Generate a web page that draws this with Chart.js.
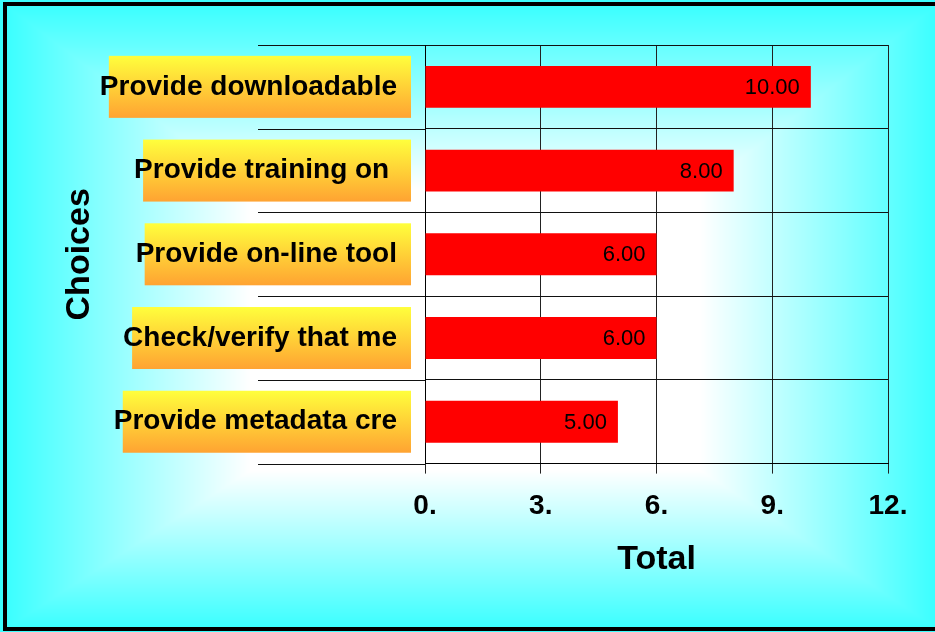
<!DOCTYPE html>
<html>
<head>
<meta charset="utf-8">
<title>Choices by Total</title>
<script src="https://cdn.jsdelivr.net/npm/chart.js@4"></script>
<style>
  html, body { margin: 0; padding: 0; background: #fff; }
  #wrap { width: 935px; height: 632px; position: relative; }
</style>
</head>
<body>
<div id="wrap"><canvas id="choicesChart" width="935" height="632"></canvas></div>
<script>
"use strict";

// chart data
const categories = ['Provide downloadable', 'Provide training on ', 'Provide on-line tool', 'Check/verify that me', 'Provide metadata cre'];
const totals = [10, 8, 6, 6, 5];
const xTickValues = [0, 3, 6, 9, 12];
const xTitle = 'Total';
const yTitle = 'Choices';

const FONT = "Arial, 'Liberation Sans', sans-serif";

// rectangular "from centre" fill: white core fading out to cyan at the frame
function makeBackground(w, h) {
    const c = document.createElement('canvas');
    c.width = w; c.height = h;
    const g = c.getContext('2d');
    const img = g.createImageData(w, h);
    const oL = 7, oR = w, oT = 6, oB = 627;
    const cL = 250, cR = 700, cT = 190, cB = 470;
    const edge = [60, 255, 255];
    for (let y = 0; y < h; y++) {
        for (let x = 0; x < w; x++) {
            let t = 0;
            if (x < cL) t = Math.max(t, (cL - x) / (cL - oL));
            if (x > cR) t = Math.max(t, (x - cR) / (oR - cR));
            if (y < cT) t = Math.max(t, (cT - y) / (cT - oT));
            if (y > cB) t = Math.max(t, (y - cB) / (oB - cB));
            t = Math.min(1, t);
            const i = (y * w + x) * 4;
            img.data[i] = 255 + (edge[0] - 255) * t;
            img.data[i + 1] = 255;
            img.data[i + 2] = 255;
            img.data[i + 3] = 255;
        }
    }
    g.putImageData(img, 0, 0);
    return c;
}

const bgCanvas = makeBackground(935, 632);

const backdrop = {
    id: 'backdrop',
    beforeDraw(chart) {
        const ctx = chart.ctx;
        ctx.save();
        ctx.fillStyle = '#fff';
        ctx.fillRect(0, 0, chart.width, chart.height);
        ctx.drawImage(bgCanvas, 0, 0);
        // frame
        ctx.fillStyle = '#000';
        ctx.fillRect(3, 2, chart.width, 4);
        ctx.fillRect(3, 2, 4, 629);
        ctx.fillRect(3, 627, chart.width, 4);

        // label boxes behind the category names
        const yScale = chart.scales.y;
        const area = chart.chartArea;
        ctx.font = 'bold 28px ' + FONT;
        const textRight = yScale.right - yScale.options.ticks.padding;
        categories.forEach((label, i) => {
            const cy = yScale.getPixelForTick(i);
            const w = ctx.measureText(label).width;
            const left = textRight - w + 9;
            const right = area.left - 14;
            const grad = ctx.createLinearGradient(0, cy - 31, 0, cy + 31);
            grad.addColorStop(0, '#ffff3c');
            grad.addColorStop(1, '#ffa332');
            ctx.fillStyle = grad;
            ctx.fillRect(left, cy - 31, right - left, 62);
        });

        // grid lines run out into the label column
        ctx.strokeStyle = '#111';
        ctx.lineWidth = 1;
        const step = (area.bottom - area.top) / categories.length;
        for (let i = 0; i <= categories.length; i++) {
            const y = Math.round(area.top + step * i) + 0.5;
            ctx.beginPath();
            ctx.moveTo(258, y);
            ctx.lineTo(area.left, y);
            ctx.stroke();
        }
        ctx.restore();
    }
};

const barValues = {
    id: 'barValues',
    afterDatasetsDraw(chart) {
        const ctx = chart.ctx;
        const meta = chart.getDatasetMeta(0);
        ctx.save();
        ctx.font = '22px ' + FONT;
        ctx.fillStyle = '#000';
        ctx.textAlign = 'right';
        ctx.textBaseline = 'middle';
        meta.data.forEach((bar, i) => {
            ctx.fillText(totals[i].toFixed(2), bar.x - 11, bar.y + 1);
        });
        ctx.restore();
    }
};

const ctx = document.getElementById('choicesChart').getContext('2d');
new Chart(ctx, {
    type: 'bar',
    data: {
        labels: categories,
        datasets: [{
            data: totals,
            backgroundColor: '#ff0000',
            borderWidth: 0,
            barPercentage: 0.5,
            categoryPercentage: 1
        }]
    },
    options: {
        indexAxis: 'y',
        responsive: false,
        animation: false,
        devicePixelRatio: 1,
        layout: { padding: { left: 53, top: 45, right: 47, bottom: 49 } },
        plugins: {
            legend: { display: false },
            tooltip: { enabled: false }
        },
        scales: {
            x: {
                min: 0,
                max: 12,
                afterBuildTicks(scale) {
                    scale.ticks = xTickValues.map(v => ({ value: v }));
                },
                grid: { color: '#222', lineWidth: 1, tickLength: 10, tickColor: '#222' },
                border: { color: '#000', width: 1 },
                ticks: {
                    color: '#000',
                    padding: 16,
                    maxRotation: 0,
                    font: { family: FONT, size: 28, weight: 'bold' },
                    callback: v => v + '.'
                },
                title: {
                    display: true,
                    text: xTitle,
                    color: '#000',
                    font: { family: FONT, size: 34, weight: 'bold' },
                    padding: { top: 0, bottom: 3 }
                }
            },
            y: {
                offset: true,
                afterFit(scale) { scale.width = 372; },
                grid: { color: '#111', lineWidth: 1, offset: true, drawTicks: false },
                border: { color: '#000', width: 1 },
                ticks: {
                    color: '#000',
                    padding: 28,
                    font: { family: FONT, size: 28, weight: 'bold' }
                },
                title: {
                    display: true,
                    text: yTitle,
                    color: '#000',
                    font: { family: FONT, size: 34, weight: 'bold' },
                    padding: { top: 6, bottom: 4 }
                }
            }
        }
    },
    plugins: [backdrop, barValues]
});
</script>
</body>
</html>
